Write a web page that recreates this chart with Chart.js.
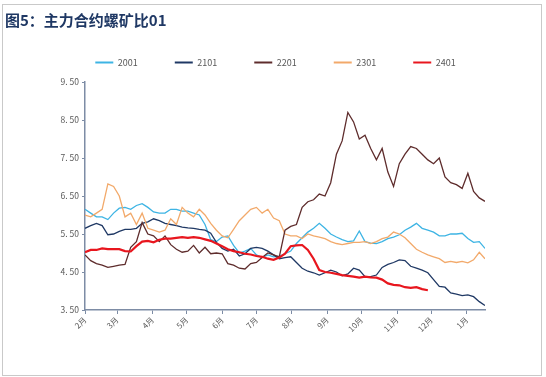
<!DOCTYPE html>
<html lang="zh-CN">
<head>
<meta charset="utf-8">
<title>主力合约螺矿比01</title>
<script src="https://cdn.jsdelivr.net/npm/chart.js@4.4.0/dist/chart.umd.min.js"></script>
<style>
  html, body { margin: 0; padding: 0; background: #fff; }
  #wrap { position: relative; width: 546px; height: 377px; overflow: hidden; }
  #frame {
    position: absolute; left: 2px; top: 4px; width: 540px; height: 372px;
    border: 1px solid #c9c9c9; box-sizing: border-box;
  }
  #title {
    position: absolute; left: 5px; top: 9px; line-height: 20px;
    font: bold 15px "Noto Sans CJK SC", sans-serif; color: #1f3864;
  }
  #ratioChart { position: absolute; left: 0; top: 0; }
</style>
</head>
<body>
<div id="wrap">
  <div id="frame"></div>
  <canvas id="ratioChart" width="546" height="377"></canvas>
  <div id="title">图5：主力合约螺矿比01</div>
</div>
<script>
/* ------------------------------------------------------------------ */
/*  Data (x = days since 1 Feb, sampled every 5 days)                 */
/* ------------------------------------------------------------------ */

var monthLabels = ['2月', '3月', '4月', '5月', '6月', '7月', '8月', '9月', '10月', '11月', '12月', '1月'];
var monthDays = [0, 28, 59, 89, 120, 150, 181, 212, 242, 273, 303, 334];

var tradeDays = [
  0, 5, 10, 15, 20, 25, 30, 35, 40, 45,
  50, 55, 60, 65, 70, 75, 80, 85, 90, 95,
  100, 105, 110, 115, 120, 125, 130, 135, 140, 145,
  150, 155, 160, 165, 170, 175, 180, 185, 190, 195,
  200, 205, 210, 215, 220, 225, 230, 235, 240, 245,
  250, 255, 260, 265, 270, 275, 280, 285, 290, 295,
  300, 305, 310, 315, 320, 325, 330, 335, 340, 345, 350
];

var ratio2001 = [
  6.15, 6.05, 5.95, 5.95, 5.88, 6.05, 6.18, 6.2, 6.15, 6.25,
  6.3, 6.2, 6.08, 6.05, 6.05, 6.15, 6.15, 6.1, 6.1, 6.05,
  6.0, 5.75, 5.35, 5.3, 5.42, 5.45, 5.2, 5.0, 5.05, 5.12,
  4.95, 4.88, 4.95, 4.9, 4.92, 4.98, 5.05, 5.25, 5.4, 5.55,
  5.65, 5.78, 5.65, 5.5, 5.42, 5.35, 5.3, 5.32, 5.58, 5.3,
  5.26, 5.25, 5.3, 5.38, 5.42, 5.48, 5.6, 5.68, 5.78, 5.65,
  5.6, 5.55, 5.45, 5.45, 5.5, 5.5, 5.52, 5.38, 5.28, 5.3, 5.12
];

var ratio2101 = [
  5.65, 5.72, 5.78, 5.72, 5.48, 5.5, 5.57, 5.62, 5.62, 5.65,
  5.78, 5.82, 5.9, 5.85, 5.78, 5.75, 5.72, 5.68, 5.66, 5.65,
  5.62, 5.6, 5.52, 5.28, 5.12, 5.05, 5.1, 4.92, 4.98, 5.12,
  5.15, 5.12, 5.05, 4.95, 4.85, 4.88, 4.9, 4.75, 4.6, 4.52,
  4.48, 4.42, 4.48, 4.55, 4.5, 4.4, 4.45, 4.6, 4.55, 4.38,
  4.38, 4.42, 4.62, 4.7, 4.75, 4.82, 4.8, 4.65, 4.6, 4.55,
  4.48, 4.3, 4.12, 4.1, 3.95, 3.92, 3.88, 3.9, 3.85, 3.72, 3.62
];

var ratio2201 = [
  4.95, 4.8, 4.72, 4.68, 4.62, 4.65, 4.68, 4.7, 5.15, 5.3,
  5.8, 5.5, 5.45, 5.3, 5.45, 5.22, 5.1, 5.02, 5.05, 5.2,
  5.0, 5.15, 4.98, 5.0, 4.98, 4.72, 4.68, 4.6, 4.58, 4.72,
  4.75, 4.88, 5.0, 4.95, 4.9, 5.6, 5.7, 5.75, 6.2, 6.35,
  6.4, 6.55, 6.5, 6.85, 7.6, 7.95, 8.7, 8.45, 8.0, 8.1,
  7.75, 7.45, 7.75, 7.13, 6.75, 7.35, 7.6, 7.8, 7.75, 7.6,
  7.45, 7.35, 7.5, 7.0, 6.85, 6.8, 6.7, 7.1, 6.62, 6.45, 6.36
];

var ratio2301 = [
  6.0, 5.95, 6.05, 6.15, 6.82, 6.75, 6.5, 5.95, 6.05, 5.75,
  6.05, 5.65, 5.6, 5.55, 5.6, 5.9, 5.75, 6.2, 6.05, 5.95,
  6.15, 6.0, 5.78, 5.6, 5.45, 5.4, 5.62, 5.85, 6.0, 6.15,
  6.2, 6.05, 6.15, 5.92, 5.85, 5.5, 5.45, 5.45, 5.38, 5.5,
  5.45, 5.42, 5.38, 5.3, 5.25, 5.22, 5.25, 5.28, 5.28, 5.3,
  5.25, 5.3, 5.38, 5.42, 5.55, 5.5, 5.4, 5.25, 5.1, 5.02,
  4.95, 4.9, 4.85, 4.75, 4.78, 4.75, 4.78, 4.74, 4.82, 5.02, 4.85
];

// 2401 stops around late November
var ratio2401 = [
  5.02, 5.08, 5.08, 5.12, 5.1, 5.1, 5.1, 5.05, 5.04, 5.18,
  5.3, 5.32, 5.28, 5.35, 5.38, 5.38, 5.4, 5.42, 5.4, 5.42,
  5.4, 5.36, 5.32, 5.25, 5.18, 5.1, 5.05, 5.02, 4.98, 4.96,
  4.92, 4.9, 4.85, 4.82, 4.88, 4.98, 5.18, 5.2, 5.21, 5.08,
  4.85, 4.55, 4.5, 4.48, 4.45, 4.42, 4.4, 4.38, 4.35, 4.38,
  4.36, 4.35, 4.3, 4.2, 4.16, 4.15, 4.1, 4.08, 4.1, 4.05,
  4.02
];

var yTicks = [3.5, 4.5, 5.5, 6.5, 7.5, 8.5, 9.5];

/* ------------------------------------------------------------------ */
/*  Styling                                                           */
/* ------------------------------------------------------------------ */

var AXIS_COLOR = '#7d8ca5';
var TEXT_COLOR = '#595959';
var FONT_FAMILY = '"Noto Sans CJK SC", "Noto Sans", sans-serif';

/* ------------------------------------------------------------------ */
/*  Helpers                                                           */
/* ------------------------------------------------------------------ */

function toPoints(values) {
  return values.map(function (v, i) {
    return { x: tradeDays[i], y: v };
  });
}

function makeSeries(label, values, color, width, order) {
  return {
    label: label,
    data: toPoints(values),
    borderColor: color,
    backgroundColor: color,
    borderWidth: width,
    pointRadius: 0,
    tension: 0,
    fill: false,
    order: order,
  };
}

// keep the legend on one row, leave a gap under it and nudge it right
var legendTweak = {
  id: 'legendTweak',
  beforeInit: function (chart) {
    var fit = chart.legend.fit;
    chart.legend.fit = function () {
      this.maxWidth = 1000;
      fit.bind(chart.legend)();
      this.height += 5;
    };
  },
  afterLayout: function (chart) {
    chart.legend.left += 13;
    chart.legend.right += 13;
  },
};

/* ------------------------------------------------------------------ */
/*  Chart                                                             */
/* ------------------------------------------------------------------ */

var datasets = [
  makeSeries('2001', ratio2001, '#3db4e4', 1.3, 4),
  makeSeries('2101', ratio2101, '#1f3864', 1.3, 3),
  makeSeries('2201', ratio2201, '#5e2c2c', 1.3, 1),
  makeSeries('2301', ratio2301, '#f2a96a', 1.3, 2),
  makeSeries('2401', ratio2401, '#e8161e', 2.2, 0),
];

new Chart(document.getElementById('ratioChart').getContext('2d'), {
  type: 'line',
  data: { datasets: datasets },
  plugins: [legendTweak],
  options: {
    responsive: false,
    animation: false,
    layout: { padding: { left: 40, right: 61, top: 21, bottom: 37 } },
    scales: {
      x: {
        type: 'linear',
        min: 0,
        max: 350,
        afterBuildTicks: function (axis) {
          axis.ticks = monthDays.map(function (d) { return { value: d }; });
        },
        afterFit: function (axis) { axis.height = 30; },
        ticks: {
          autoSkip: false,
          minRotation: 45,
          maxRotation: 45,
          padding: 1,
          color: TEXT_COLOR,
          font: { family: FONT_FAMILY, size: 8 },
          callback: function (value) {
            var i = monthDays.indexOf(value);
            return i >= 0 ? monthLabels[i] : '';
          },
        },
        grid: { drawOnChartArea: false, drawTicks: true, tickLength: 4, color: AXIS_COLOR, lineWidth: 1 },
        border: { color: AXIS_COLOR, width: 1.5 },
      },
      y: {
        min: 3.5,
        max: 9.5,
        afterBuildTicks: function (axis) {
          axis.ticks = yTicks.map(function (v) { return { value: v }; });
        },
        afterFit: function (axis) { axis.width = 45; },
        ticks: {
          padding: 3,
          color: TEXT_COLOR,
          font: { family: FONT_FAMILY, size: 8.5 },
          callback: function (value) {
            return value.toFixed(2).replace('.', '. ');
          },
        },
        grid: { drawOnChartArea: false, drawTicks: true, tickLength: 3, color: AXIS_COLOR, lineWidth: 1 },
        border: { color: AXIS_COLOR, width: 1.5 },
      },
    },
    plugins: {
      legend: {
        position: 'top',
        labels: {
          boxWidth: 18,
          boxHeight: 2,
          padding: 37,
          color: TEXT_COLOR,
          font: { family: FONT_FAMILY, size: 9 },
          sort: function (a, b) { return a.datasetIndex - b.datasetIndex; },
          generateLabels: function (chart) {
            var items = Chart.defaults.plugins.legend.labels.generateLabels(chart);
            items.forEach(function (item) { item.lineWidth = 0; });
            return items;
          },
        },
      },
      tooltip: { enabled: false },
    },
  },
});
</script>
</body>
</html>
